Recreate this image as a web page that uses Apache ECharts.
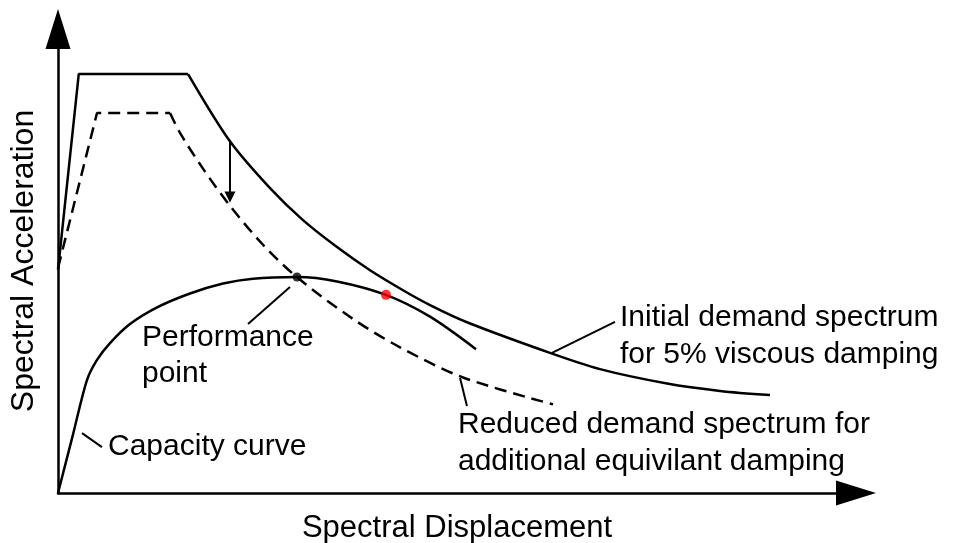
<!DOCTYPE html>
<html>
<head>
<meta charset="utf-8">
<script src="https://cdn.jsdelivr.net/npm/echarts@6/dist/echarts.min.js"></script>
<style>html,body{margin:0;padding:0;background:#fff}#c{width:954px;height:543px}</style>
</head>
<body>
<div id="c"></div>
<script>
// Arbitrary units: displacement 0..100, acceleration 0..100
const xTitle = 'Spectral Displacement';
const yTitle = 'Spectral Acceleration';

// Initial demand spectrum (5% damping)
const initialRamp = [[0, 48.1], [2.6, 90.3], [16.3, 90.3]];
const initialCurve = [[16.3, 90.3], [21.55, 75.8], [26.57, 65.7], [30.7, 58.8], [34.96, 53.0], [39.1, 48.0],
  [43.23, 43.7], [46.62, 40.5], [51.25, 36.8], [61.65, 30.2], [67.92, 26.7], [76.32, 23.6], [82.96, 22.0], [89.22, 21.1]];

// Reduced demand spectrum (additional equivalent damping)
const reducedRamp = [[0, 48.5], [4.89, 81.9], [14.04, 81.9]];
const reducedCurve = [[14.04, 81.9], [15.29, 77.6], [18.17, 69.9], [21.55, 61.9], [25.69, 53.5], [29.95, 46.5],
  [36.97, 37.5], [42.86, 31.4], [50.75, 24.9], [62.03, 19.1]];

// Capacity curve
const capacity = [[0, 0], [1.82, 12.2], [3.63, 24.35], [4.89, 28.7], [6.52, 32.3], [9.02, 36.4], [12.41, 40.0],
  [16.54, 43.0], [20.68, 45.15], [24.44, 46.2], [29.95, 46.55], [34.96, 45.6], [41.1, 42.7],
  [46.62, 38.0], [52.38, 31.0]];

// Marked points
const performancePoint = [29.95, 46.55];
const redPoint = [41.1, 42.7];

// Shift arrow (initial -> reduced)
const shiftArrow = [[21.55, 75.6], [21.55, 63.8]];

// Leader lines for annotations
const leaderCapacity = [[3.01, 12.9], [5.51, 9.9]];
const leaderPerformance = [[29.07, 44.4], [23.81, 36.4]];
const leaderReduced = [[50.38, 24.8], [51.25, 18.75]];
const leaderInitial = [[61.9, 30.2], [69.8, 36.9]];

// Annotation texts
const txtCapacity = ['Capacity curve'];
const txtPerformance = ['Performance', 'point'];
const txtReduced = ['Reduced demand spectrum for', 'additional equivilant damping'];
const txtInitial = ['Initial demand spectrum', 'for 5% viscous damping'];

const FAMILY = '"Liberation Sans", Arial, sans-serif';
const FONT = '30px ' + FAMILY;
const solid = {color: '#000', width: 2.5};
const dashed = {color: '#000', width: 2.5, type: [12, 7]};

function lineSeries(data, style, smooth) {
  return {type: 'line', data: data, showSymbol: false, symbol: 'none', smooth: smooth || false,
    lineStyle: style, silent: true, z: 3};
}
function textEls(lines, x, y0, gap) {
  return lines.map((t, i) => ({type: 'text', x: x, y: y0 + i * gap,
    style: {text: t, font: FONT, fill: '#000', align: 'left', verticalAlign: 'middle'}}));
}

const chart = echarts.init(document.getElementById('c'), null, {renderer: 'canvas'});
chart.setOption({
  animation: false,
  backgroundColor: '#fff',
  grid: {left: 58, right: 98, top: 29, bottom: 50, containLabel: false, outerBoundsMode: 'none'},
  xAxis: {
    type: 'value', min: 0, max: 100,
    name: xTitle, nameLocation: 'middle', nameGap: 20,
    nameTextStyle: {fontSize: 31, color: '#000', fontFamily: FAMILY},
    axisLine: {show: true, onZero: false, symbol: ['none', 'triangle'], symbolSize: [25, 40], lineStyle: {color: '#000', width: 2.5}},
    axisTick: {show: false}, axisLabel: {show: false}, splitLine: {show: false}
  },
  yAxis: {
    type: 'value', min: 0, max: 100,
    name: yTitle, nameLocation: 'middle', nameGap: 18, nameRotate: 90,
    nameTextStyle: {fontSize: 32, color: '#000', fontFamily: FAMILY},
    axisLine: {show: true, onZero: false, symbol: ['none', 'triangle'], symbolSize: [25, 40], lineStyle: {color: '#000', width: 2.5}},
    axisTick: {show: false}, axisLabel: {show: false}, splitLine: {show: false}
  },
  series: [
    lineSeries(initialRamp, solid),
    lineSeries(initialCurve, solid, 0.3),
    lineSeries(reducedRamp, dashed),
    lineSeries(reducedCurve, dashed, 0.3),
    lineSeries(capacity, solid, 0.3),
    lineSeries(leaderCapacity, {color: '#000', width: 2}),
    lineSeries(leaderPerformance, {color: '#000', width: 2}),
    lineSeries(leaderReduced, {color: '#000', width: 2}),
    lineSeries(leaderInitial, {color: '#000', width: 2}),
    {
      type: 'line', silent: true, z: 4, showSymbol: true, lineStyle: {color: '#000', width: 2},
      itemStyle: {color: '#000'},
      data: [{value: shiftArrow[0], symbol: 'none'},
             {value: shiftArrow[1], symbol: 'triangle', symbolSize: [11, 11], symbolRotate: 180}]
    },
    {type: 'scatter', silent: true, z: 6, symbolSize: 9, itemStyle: {color: '#000'}, data: [performancePoint]},
    {type: 'scatter', silent: true, z: 6, symbolSize: 10, itemStyle: {color: '#ff0000'}, data: [redPoint]}
  ],
  graphic: [].concat(
    textEls(txtCapacity, 108, 447, 36),
    textEls(txtPerformance, 142, 338, 36),
    textEls(txtReduced, 458, 425, 37),
    textEls(txtInitial, 620, 318, 37)
  )
});
</script>
</body>
</html>
